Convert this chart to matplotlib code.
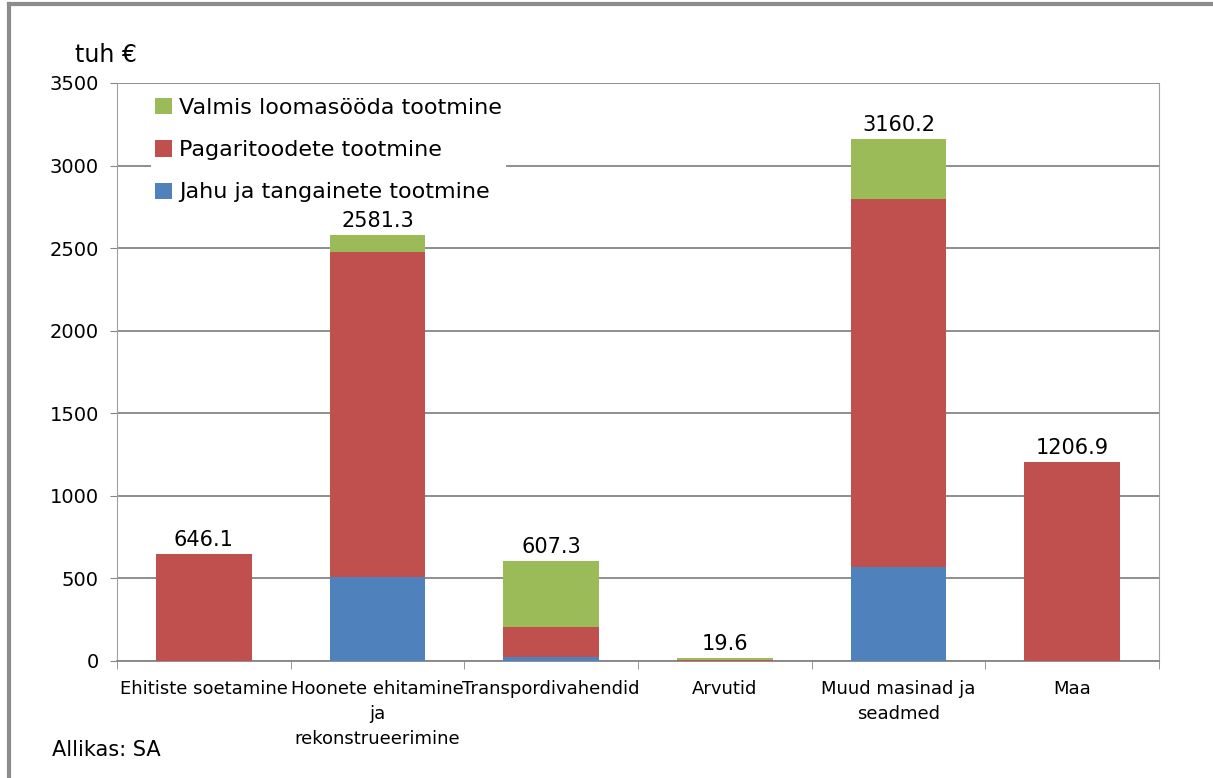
import numpy as np
import matplotlib.pyplot as plt
from matplotlib import font_manager

categories = ['Ehitiste soetamine', 'Hoonete ehitamine\nja\nrekonstrueerimine',
              'Transpordivahendid', 'Arvutid', 'Muud masinad ja\nseadmed', 'Maa']
jahu = [0, 510, 25, 0, 569, 0]
pagari = [646.1, 1967, 181, 8, 2229, 1206.9]
loomasoot = [0, 104.3, 401.3, 11.6, 362.2, 0]
totals = ['646.1', '2581.3', '607.3', '19.6', '3160.2', '1206.9']

names = [f.name for f in font_manager.fontManager.ttflist]
fam = 'Liberation Sans Narrow' if 'Liberation Sans Narrow' in names else 'DejaVu Sans Condensed'
plt.rcParams['font.family'] = [fam, 'DejaVu Sans']

blue = '#4f81bd'
red = '#c0504d'
green = '#9bbb59'
grid = '#868686'

fig = plt.figure(figsize=(12.13, 7.78), dpi=100)
ax = fig.add_axes([117 / 1213, 1 - 661 / 778, (1159 - 117) / 1213, (661 - 83) / 778])

x = np.arange(len(categories))
w = 0.55
b1 = ax.bar(x, jahu, w, color=blue, label='Jahu ja tangainete tootmine', zorder=3)
b2 = ax.bar(x, pagari, w, bottom=jahu, color=red, label='Pagaritoodete tootmine', zorder=3)
bot = np.array(jahu) + np.array(pagari)
b3 = ax.bar(x, loomasoot, w, bottom=bot, color=green, label='Valmis loomasööda tootmine', zorder=3)

tot = bot + np.array(loomasoot)
for xi, t, lab in zip(x, tot, totals):
    ax.text(xi, t + 25, lab, ha='center', va='bottom', fontsize=15, color='black')

ax.set_xlim(-0.5, len(categories) - 0.5)
ax.set_ylim(0, 3500)
ax.set_yticks(np.arange(0, 3501, 500))
ax.yaxis.grid(True, color=grid, linewidth=1.3, zorder=0)
ax.set_axisbelow(True)
ax.set_xticks(x)
ax.set_xticklabels(categories, fontsize=13, linespacing=1.5)
ax.set_xticks(np.arange(-0.5, len(categories)), minor=True)
ax.tick_params(axis='x', which='major', length=0, pad=14)
ax.tick_params(axis='x', which='minor', length=6, color=grid)
ax.tick_params(axis='y', labelsize=14, length=5, color=grid, pad=8)
for s in ['left', 'right']:
    ax.spines[s].set_color('#a0a0a0')
ax.spines['bottom'].set_color(grid)
ax.spines['bottom'].set_linewidth(1.3)
ax.spines['top'].set_visible(False)

leg = ax.legend(handles=[b3, b2, b1], loc='upper left', bbox_to_anchor=(0.022, 1.001),
                frameon=True, fontsize=16, handlelength=0.75, handleheight=0.75,
                handletextpad=0.3, labelspacing=1.0, borderpad=0.2)
leg.get_frame().set_edgecolor('none')
leg.get_frame().set_facecolor('white')
leg.get_frame().set_alpha(1)

fig.text(75 / 1213, 1 - 55 / 778, 'tuh €', fontsize=17, ha='left', va='center')
fig.text(52 / 1213, 1 - 750 / 778, 'Allikas: SA', fontsize=15, ha='left', va='center')

# outer frame of the original chart
fig.add_artist(plt.Line2D([9 / 1213, 9 / 1213], [0, 1 - 4 / 778], transform=fig.transFigure,
                          color='#8c8c8c', linewidth=3))
fig.add_artist(plt.Line2D([9 / 1213, 1], [1 - 4 / 778, 1 - 4 / 778], transform=fig.transFigure,
                          color='#8c8c8c', linewidth=3))

fig.savefig('out.png', dpi=100)
